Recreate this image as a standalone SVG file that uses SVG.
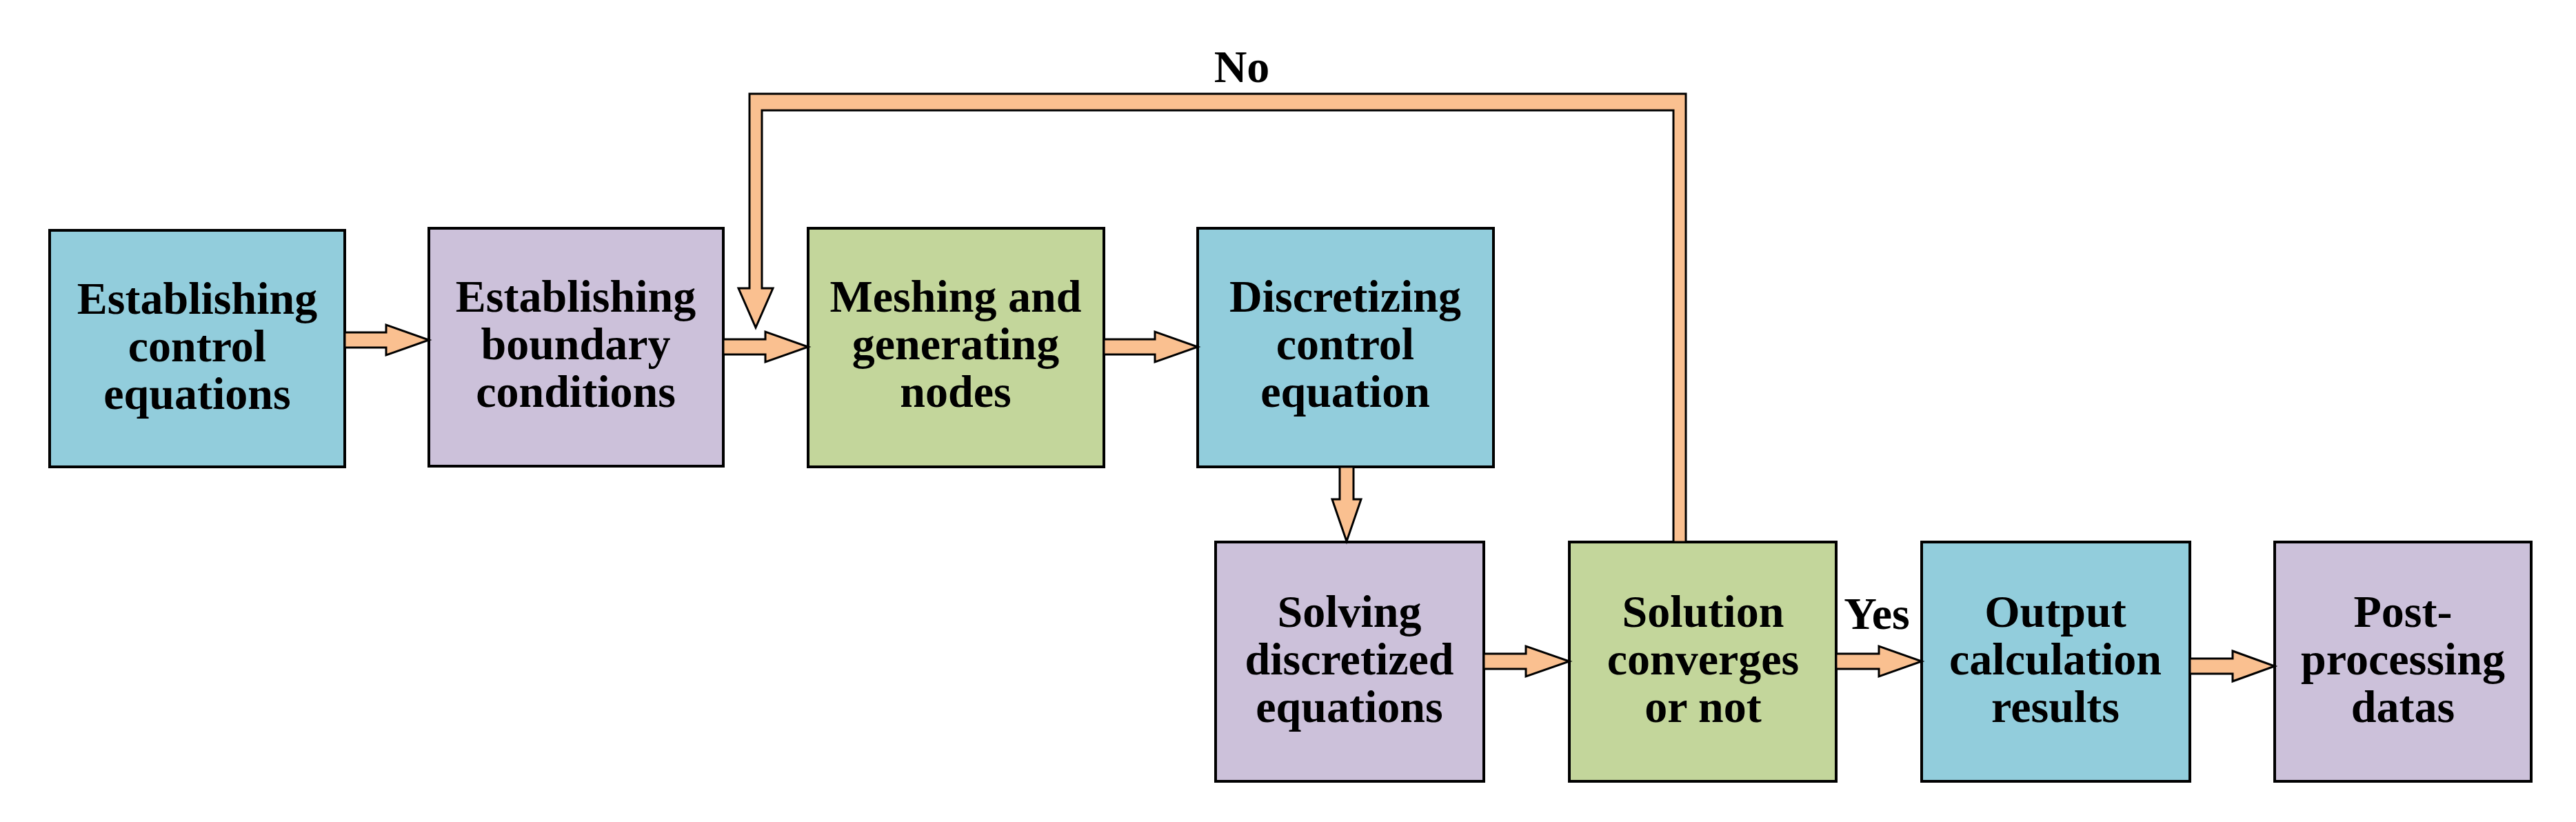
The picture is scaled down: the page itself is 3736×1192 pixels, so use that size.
<svg xmlns="http://www.w3.org/2000/svg" width="3736" height="1192" viewBox="0 0 3736 1192">
<style>
.b{stroke:#000;stroke-width:4}
.blue{fill:#92CDDC}.pur{fill:#CCC1DA}.grn{fill:#C3D69B}
.a{fill:#FAC090;stroke:#000;stroke-width:3;stroke-linejoin:miter}
text{font-family:"Liberation Serif","Times New Roman",serif;font-weight:bold;font-size:66px;text-anchor:middle;fill:#000}
</style>
<rect width="3736" height="1192" fill="#fff"/>
<g id="n1"><rect class="b blue" x="72" y="334" width="428" height="343"/><text x="286" y="455">Establishing</text><text x="286" y="524">control</text><text x="286" y="593">equations</text></g>
<g id="n2"><rect class="b pur" x="622" y="331" width="427" height="345"/><text x="835" y="452">Establishing</text><text x="835" y="521">boundary</text><text x="835" y="590">conditions</text></g>
<g id="n3"><rect class="b grn" x="1172" y="331" width="429" height="346"/><text x="1386" y="452">Meshing and</text><text x="1386" y="521">generating</text><text x="1386" y="590">nodes</text></g>
<g id="n4"><rect class="b blue" x="1737" y="331" width="429" height="346"/><text x="1951" y="452">Discretizing</text><text x="1951" y="521">control</text><text x="1951" y="590">equation</text></g>
<g id="n5"><rect class="b pur" x="1763" y="786" width="389" height="347"/><text x="1957" y="909">Solving</text><text x="1957" y="978">discretized</text><text x="1957" y="1047">equations</text></g>
<g id="n6"><rect class="b grn" x="2276" y="786" width="387" height="347"/><text x="2470" y="909">Solution</text><text x="2470" y="978">converges</text><text x="2470" y="1047">or not</text></g>
<g id="n7"><rect class="b blue" x="2787" y="786" width="389" height="347"/><text x="2981" y="909">Output</text><text x="2981" y="978">calculation</text><text x="2981" y="1047">results</text></g>
<g id="n8"><rect class="b pur" x="3299" y="786" width="372" height="347"/><text x="3485" y="909">Post-</text><text x="3485" y="978">processing</text><text x="3485" y="1047">datas</text></g>
<g id="connectors">
<polygon class="a" points="500,482 560,482 560,471 622,493 560,515 560,504 500,504"/>
<polygon class="a" points="1049,492 1110,492 1110,481 1172,503 1110,525 1110,514 1049,514"/>
<polygon class="a" points="1601,492 1675,492 1675,481 1737,503 1675,525 1675,514 1601,514"/>
<polygon class="a" points="1943,677 1963,677 1963,724 1974,724 1953,785 1932,724 1943,724"/>
<polygon class="a" points="2152,948 2213,948 2213,937 2276,959 2213,981 2213,970 2152,970"/>
<polygon class="a" points="2663,948 2725,948 2725,937 2787,959 2725,981 2725,970 2663,970"/>
<polygon class="a" points="3176,955 3238,955 3238,944 3299,966 3238,988 3238,977 3176,977"/>
<polygon class="a" points="2427,786 2427,160 1105,160 1105,418 1121,418 1096,475 1071,418 1087,418 1087,136 2445,136 2445,786"/>
<text x="1801" y="119">No</text>
<text x="2722" y="912">Yes</text>
</g>
</svg>
